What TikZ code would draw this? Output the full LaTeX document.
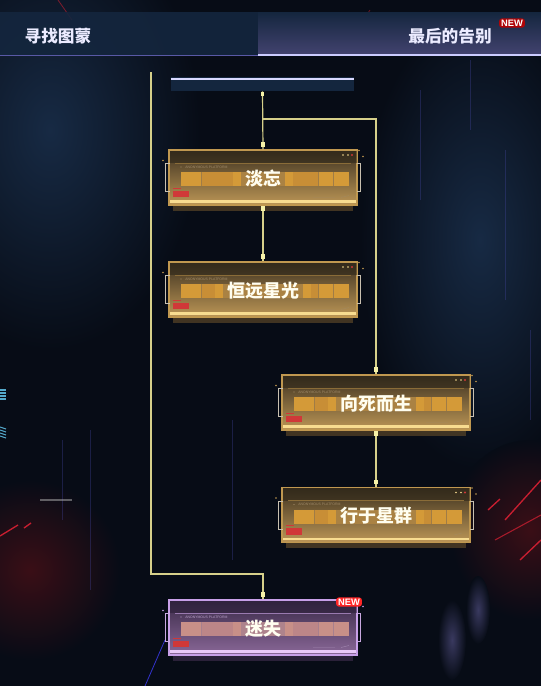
\documentclass[tikz,border=0pt]{standalone}
\usepackage{fontspec}
\newfontfamily\cjk{Noto Sans CJK SC}
\newfontfamily\latin{Liberation Sans}
\usetikzlibrary{calc}
\definecolor{bg}{HTML}{070C16}
\definecolor{glowA}{HTML}{172A44}
\definecolor{glowB}{HTML}{14263E}
\definecolor{glowR}{HTML}{3A0E16}
\definecolor{connC}{HTML}{D6D08A}
\definecolor{markC}{HTML}{F6F2A8}
\definecolor{tagC}{HTML}{D03838}
\definecolor{redL}{HTML}{C81E30}
% gold palette
\definecolor{goldTop}{HTML}{3E3220}
\definecolor{goldBot}{HTML}{BC9656}
\definecolor{goldEdge}{HTML}{C09850}
\definecolor{goldLine}{HTML}{8A6C38}
\definecolor{goldBar}{HTML}{D49A38}
\definecolor{goldBarD}{HTML}{C88E36}
\definecolor{goldMid}{HTML}{A07C46}
\definecolor{goldGlow}{HTML}{F8DC90}
\definecolor{goldSh}{HTML}{5A4628}
\definecolor{goldBrk}{HTML}{C8C0B0}
\definecolor{goldSmall}{HTML}{A08A68}
\definecolor{goldDark}{HTML}{2A2418}
% purple palette
\definecolor{purpTop}{HTML}{3A2A48}
\definecolor{purpBot}{HTML}{8A6898}
\definecolor{purpEdge}{HTML}{C8A0E8}
\definecolor{purpLine}{HTML}{9A7AB0}
\definecolor{purpBar}{HTML}{C89088}
\definecolor{purpBarD}{HTML}{BC8688}
\definecolor{purpMid}{HTML}{A8808E}
\definecolor{purpGlow}{HTML}{E8C8F8}
\definecolor{purpSh}{HTML}{3A2A48}
\definecolor{purpBrk}{HTML}{C8A8E0}
\definecolor{purpSmall}{HTML}{B8A0C8}
\definecolor{purpDark}{HTML}{2A1E36}

\tikzset{
  conn/.style={draw=connC, line width=0.9pt},
  endmark/.style={fill=markC, draw=none},
  cardbody/.style={rectangle, minimum width=141pt, minimum height=41.25pt, line width=0.8pt, inner sep=0pt},
  cardtitle/.style={font=\cjk\bfseries\fontsize{13.5pt}{14pt}\selectfont, text=white!94!yellow},
  toptext/.style={font=\cjk\bfseries\fontsize{12.5pt}{13pt}\selectfont, text=white!92!blue},
  tinytext/.style={font=\latin\fontsize{2.6pt}{3pt}\selectfont, inner sep=0pt},
  newbadge/.style={font=\latin\bfseries\fontsize{7pt}{8pt}\selectfont, text=white, fill=red!80!pink, rounded corners=2pt, inner xsep=1.5pt, inner ysep=1pt},
}

\newcommand\drawcard[5]{%
\begin{scope}[shift={#2}]
  \fill[#4Sh, opacity=0.7] (-90,27.5) rectangle (90,33);
  \node[cardbody, top color=#4Top, bottom color=#4Bot, draw=#4Edge] (#1) at (0,0) {};
  \fill[#4Dark, opacity=0.55] (-93.5,-27) rectangle (93.5,-14.5);
  \draw[#4Line, line width=0.6pt] (-88,-14.5) -- (88,-14.5);
  \node[tinytext, text=#4Small, anchor=west] at (-78,-10.5) {ANONYMOUS PLATFORM};
  \fill[#4Small] (-82,-10.5) circle (0.7);
  \fill[#4Bar] (-82,-5.5) rectangle (86,8.5);
  \fill[#4BarD] (-62,-5.5) rectangle (-#5-8,8.5);
  \fill[#4BarD] (#5+8,-5.5) rectangle (55,8.5);
  \fill[#4Mid, opacity=0.8] (-#5,-5.5) rectangle (#5,8.5);
  \foreach \xx in {-62,55,70} \draw[#4Mid, line width=0.3pt] (\xx,-5.5) -- (\xx,8.5);
  \node[cardtitle] at (0,1) {#3};
  \fill[tagC] (-90,13) rectangle (-74,19.5);
  \draw[tagC, line width=0.4pt] (-90,10.5) -- (-82,10.5);
  \draw[#4Small, line width=0.3pt, opacity=0.6] (50,20) -- (72,20) (78,20) -- (86,18);
  \draw[#4Glow, line width=1.6pt] (-93,24) -- (93,24);
  \draw[#4Brk, line width=0.6pt] (-93.5,-14) -- (-97.5,-14) -- (-97.5,14) -- (-93.5,14);
  \draw[#4Brk, line width=0.6pt] (93.5,-14) -- (97.5,-14) -- (97.5,14) -- (93.5,14);
  \fill[#4Glow] (80,-22.5) circle (0.9) (85,-22.5) circle (0.9);
  \fill[tagC] (89,-22.5) circle (1.1);
  \fill[#4Edge] (96,-27) circle (0.9) (100,-21) circle (0.9) (-100,-17) circle (0.8);
\end{scope}}

\begin{document}
\begin{tikzpicture}[x=0.75pt,y=-0.75pt]
\useasboundingbox (0,0) rectangle (541,686);
% background
\fill[bg] (0,0) rectangle (541,686);
\shade[inner color=glowA, outer color=bg] (50,130) ellipse (150 and 220);
\shade[inner color=glowA, outer color=bg] (480,240) ellipse (120 and 230);
\shade[inner color=glowR, outer color=bg] (30,570) ellipse (90 and 90);
\shade[inner color=glowR, outer color=bg] (530,530) ellipse (80 and 90);
\shade[inner color=blue!25!gray!60!black, outer color=bg] (452,640) ellipse (14 and 40);
\shade[inner color=blue!25!gray!60!black, outer color=bg] (478,610) ellipse (12 and 34);
% faint vertical streaks
\foreach \xx/\ya/\yb in {90/430/590, 62/440/520, 470/60/130, 505/150/300, 420/90/200, 530/330/420, 232/420/560}
  \draw[blue!40!gray, opacity=0.3, line width=0.6pt] (\xx,\ya) -- (\xx,\yb);
% left edge marks
\foreach \yy in {390,393,396,399} \draw[cyan!60!gray, line width=0.8pt] (0,\yy) -- (6,\yy);
\foreach \yy in {427,430,433,436} \draw[cyan!60!gray, line width=0.8pt] (0,\yy) -- (6,\yy+2);
\draw[gray!60, opacity=0.5, line width=1.2pt] (40,500) -- (72,500);
% red lines
\draw[redL, line width=1pt] (0,536) -- (18,525);
\draw[redL, line width=1pt] (24,528) -- (31,523);
\draw[redL, line width=1pt] (488,510) -- (500,499);
\draw[redL, line width=1pt] (505,520) -- (541,480);
\draw[redL, line width=1pt] (520,560) -- (541,540);
\draw[redL, line width=0.8pt, opacity=0.8] (495,540) -- (541,515);
\draw[redL, opacity=0.6, line width=0.6pt] (58,0) -- (72,20);
\draw[redL, opacity=0.5, line width=0.6pt] (370,10) -- (362,22);
\draw[blue!60!gray, line width=0.6pt] (165,640) -- (145,686);

% top band
\fill[glowB, opacity=0.9] (0,12) rectangle (258,56);
\shade[top color=glowB, bottom color=blue!25!gray!70!black] (258,12) rectangle (541,55);
\draw[gray!70!blue, line width=1pt] (0,55.5) -- (258,55.5);
\draw[blue!20!white, line width=1.5pt] (258,55) -- (541,55);
\node[toptext] (tabA) at (58,36) {寻找图蒙};
\node[toptext] (tabB) at (450,36) {最后的告别};
\node[newbadge, fill=red!75!black, opacity=0.9, text opacity=1] (newA) at (512,23) {NEW};

% head bar
\node[rectangle, fill=glowB, minimum width=137.25pt, minimum height=10.5pt, inner sep=0pt] (head) at (262.5,84) {};
\draw[blue!15!white, line width=1.3pt] ($(head.north west)+(0,2)$) -- ($(head.north east)+(0,2)$);

% cards
\drawcard{c1}{(263,177.5)}{淡忘}{gold}{22}
\drawcard{c2}{(263,289.5)}{恒远星光}{gold}{40}
\drawcard{c3}{(376,402.5)}{向死而生}{gold}{40}
\drawcard{c4}{(376,515)}{行于星群}{gold}{40}
\drawcard{c5}{(263,627.5)}{迷失}{purp}{22}
\node[newbadge] (newB) at (349,602) {NEW};

% connectors
\coordinate (j1) at (263,119);
\coordinate (lstart) at (151,72);
\coordinate (j2) at (263,574);
\draw[conn] (head.south) -- (c1.north);
\draw[conn] (j1) -| (c3.north);
\draw[conn] (c1.south) -- (c2.north);
\draw[conn] (c3.south) -- (c4.north);
\draw[conn] (lstart) |- (j2) -- (c5.north);
% end markers
\foreach \p in {head.south, c1.south, c3.south}
  \fill[endmark] ($(\p)+(-1.8,0.5)$) rectangle ($(\p)+(1.8,5)$);
\foreach \p in {c1.north, c2.north, c3.north, c4.north, c5.north}
  \fill[endmark] ($(\p)+(-1.8,-7)$) rectangle ($(\p)+(1.8,-2.5)$);
\end{tikzpicture}
\end{document}
